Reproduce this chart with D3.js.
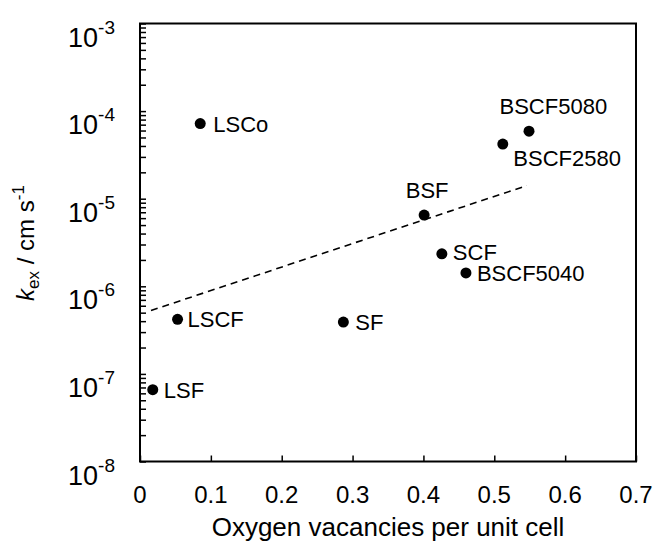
<!DOCTYPE html>
<html>
<head>
<meta charset="utf-8">
<script src="https://cdn.jsdelivr.net/npm/d3@7"></script>
<style>
  html, body { margin: 0; padding: 0; background: #fff; }
  svg { display: block; font-family: "Liberation Sans", Arial, sans-serif; }
</style>
</head>
<body>
<svg id="chart" width="656" height="541"></svg>
<script>
// Materials: oxygen vacancies per unit cell vs surface exchange coefficient k_ex (cm/s)
const materials = ["LSCo", "LSCF", "SF", "LSF", "BSF", "SCF", "BSCF5040", "BSCF2580", "BSCF5080"];
const vacancies = [0.085, 0.053, 0.287, 0.018, 0.401, 0.426, 0.460, 0.512, 0.549];
const kex       = [7.2e-5, 4.2e-7, 3.9e-7, 6.6e-8, 6.5e-6, 2.35e-6, 1.42e-6, 4.2e-5, 5.9e-5];

// Trend line (straight in log space), given by its end points
const trendX = [0.0155, 0.546];
const trendY = [5.3e-7, 1.41e-5];

const xTicks = [0, 0.1, 0.2, 0.3, 0.4, 0.5, 0.6, 0.7];
const xTickLabels = ["0", "0.1", "0.2", "0.3", "0.4", "0.5", "0.6", "0.7"];
const yExponents = [-3, -4, -5, -6, -7, -8];

// Label placement relative to each marker: [dx, dy, anchor]
const labelPlacement = {
  "LSCo":     [13, 8, "start"],
  "LSCF":     [10, 8, "start"],
  "SF":       [12, 8, "start"],
  "LSF":      [11, 8, "start"],
  "BSF":      [3, -17, "middle"],
  "SCF":      [11, 6.5, "start"],
  "BSCF5040": [11, 8.5, "start"],
  "BSCF2580": [10.5, 22, "start"],
  "BSCF5080": [-29.5, -17, "start"]
};

const svg = d3.select("#chart");
const plotLeft = 140, plotRight = 636, plotTop = 23.5, plotBottom = 461.5;

const x = d3.scaleLinear().domain([0, 0.7]).range([plotLeft, plotRight]);
const y = d3.scaleLog().domain([1e-8, 1e-3]).range([plotBottom, plotTop]);

// Frame
svg.append("rect")
  .attr("x", plotLeft).attr("y", plotTop)
  .attr("width", plotRight - plotLeft).attr("height", plotBottom - plotTop)
  .attr("fill", "none").attr("stroke", "#000").attr("stroke-width", 2);

// Y axis: major and minor ticks, pointing inward
const yTickVals = [];
for (let e = -8; e < -3; e++) {
  for (let m = 1; m <= 9; m++) yTickVals.push(m * Math.pow(10, e));
}
yTickVals.push(1e-3);
const yAxis = d3.axisRight(y).tickValues(yTickVals).tickSize(6).tickFormat("");
const gy = svg.append("g").attr("transform", `translate(${plotLeft},0)`).call(yAxis);
gy.select(".domain").remove();
gy.selectAll(".tick line").attr("stroke", "#000").attr("stroke-width", 1.5);

// X axis: ticks inward
const xAxis = d3.axisTop(x).tickValues(xTicks).tickSize(6).tickFormat("");
const gx = svg.append("g").attr("transform", `translate(0,${plotBottom})`).call(xAxis);
gx.select(".domain").remove();
gx.selectAll(".tick line").attr("stroke", "#000").attr("stroke-width", 1.5);

// X tick labels
svg.append("g").selectAll("text")
  .data(xTicks)
  .join("text")
  .attr("x", d => x(d))
  .attr("y", 503)
  .attr("text-anchor", "middle")
  .attr("font-size", 24)
  .attr("fill", "#000")
  .text((d, i) => xTickLabels[i]);

// Y tick labels as powers of ten
const yl = svg.append("g").selectAll("text")
  .data(yExponents)
  .join("text")
  .attr("x", 115)
  .attr("y", d => y(Math.pow(10, d)) + 23)
  .attr("text-anchor", "end")
  .attr("font-size", 27)
  .attr("fill", "#000");
yl.append("tspan").text("10");
yl.append("tspan")
  .attr("dy", -13)
  .attr("font-size", 19)
  .text(d => "-" + Math.abs(d));

// Axis titles
svg.append("text")
  .attr("x", (plotLeft + plotRight) / 2)
  .attr("y", 536)
  .attr("text-anchor", "middle")
  .attr("font-size", 26)
  .attr("fill", "#000")
  .text("Oxygen vacancies per unit cell");

const yt = svg.append("text")
  .attr("transform", "translate(34,243) rotate(-90)")
  .attr("text-anchor", "middle")
  .attr("font-size", 24)
  .attr("fill", "#000");
yt.append("tspan").attr("font-style", "italic").text("k");
yt.append("tspan").attr("font-size", 17).attr("dy", 5).text("ex");
yt.append("tspan").attr("dy", -5).text(" / cm s");
yt.append("tspan").attr("font-size", 17).attr("dy", -10).text("-1");

// Dashed trend line
const trend = trendX.map((v, i) => [v, trendY[i]]);
svg.append("path")
  .datum(trend)
  .attr("d", d3.line().x(d => x(d[0])).y(d => y(d[1])))
  .attr("fill", "none")
  .attr("stroke", "#000")
  .attr("stroke-width", 1.6)
  .attr("stroke-dasharray", "7,5");

// Data points and labels
const pts = materials.map((m, i) => ({ name: m, vx: vacancies[i], k: kex[i] }));
svg.append("g").selectAll("circle")
  .data(pts)
  .join("circle")
  .attr("cx", d => x(d.vx))
  .attr("cy", d => y(d.k))
  .attr("r", 5.5)
  .attr("fill", "#000");

svg.append("g").selectAll("text")
  .data(pts)
  .join("text")
  .attr("x", d => x(d.vx) + labelPlacement[d.name][0])
  .attr("y", d => y(d.k) + labelPlacement[d.name][1])
  .attr("text-anchor", d => labelPlacement[d.name][2])
  .attr("font-size", 22)
  .attr("fill", "#000")
  .text(d => d.name);
</script>
</body>
</html>
